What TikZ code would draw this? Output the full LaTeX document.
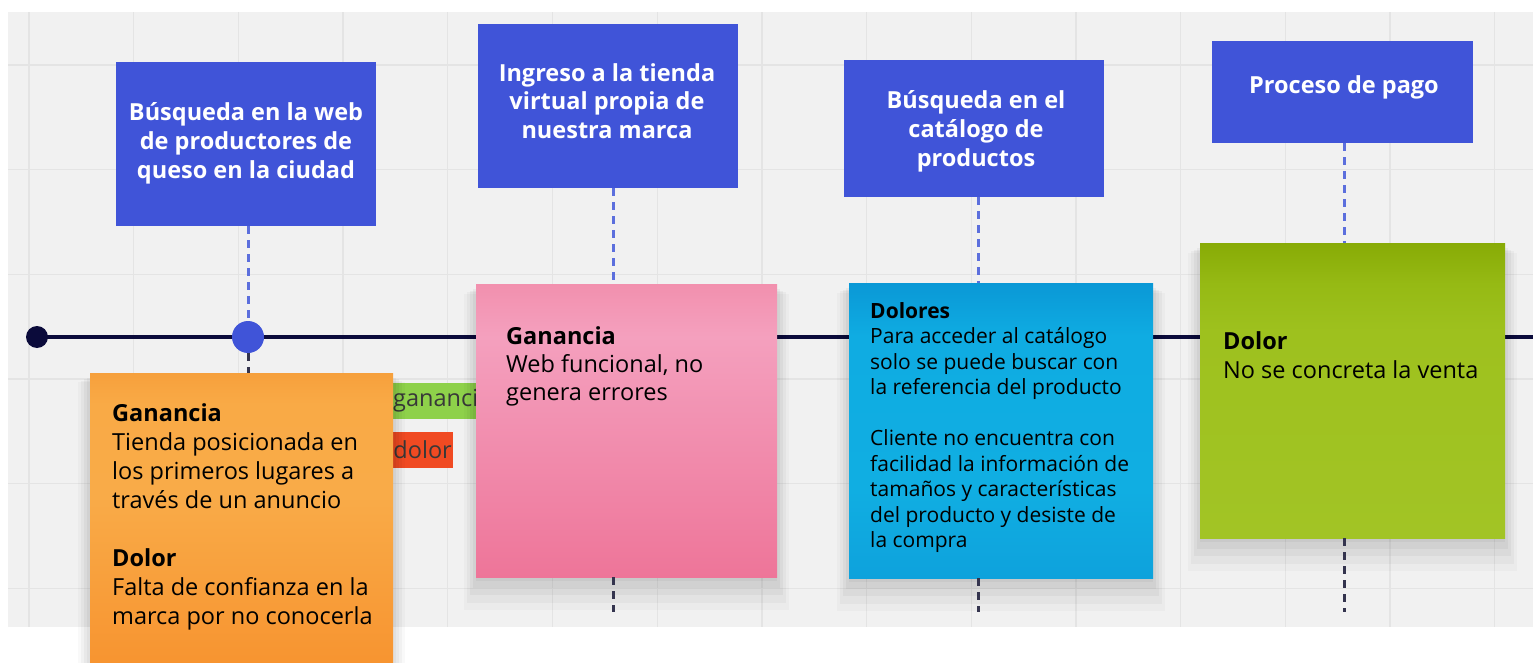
\documentclass[tikz,border=0pt]{standalone}
\usepackage{fontspec}
\setmainfont{Open Sans}
\usetikzlibrary{shadows}
\definecolor{bgc}{HTML}{F1F1F1}
\definecolor{gridc}{HTML}{E4E4E4}
\definecolor{hdrc}{HTML}{4054D8}
\definecolor{navy}{HTML}{0B0B3B}
\definecolor{dashup}{HTML}{5C6FDD}
\definecolor{dashdn}{HTML}{34344E}
\definecolor{tagg}{HTML}{8ED14A}
\definecolor{tagr}{HTML}{F04A22}
\pgfdeclareverticalshading{orshade}{100bp}{color(0bp)=(rgb,255:red,247;green,146;blue,46); color(25bp)=(rgb,255:red,247;green,146;blue,46); color(55bp)=(rgb,255:red,249;green,171;blue,72); color(70bp)=(rgb,255:red,249;green,170;blue,70); color(75bp)=(rgb,255:red,246;green,160;blue,60); color(100bp)=(rgb,255:red,246;green,160;blue,60)}
\pgfdeclareverticalshading{pishade}{100bp}{color(0bp)=(rgb,255:red,238;green,117;blue,153); color(25bp)=(rgb,255:red,238;green,117;blue,153); color(66bp)=(rgb,255:red,244;green,160;blue,190); color(75bp)=(rgb,255:red,242;green,144;blue,174); color(100bp)=(rgb,255:red,242;green,144;blue,174)}
\pgfdeclareverticalshading{blshade}{100bp}{color(0bp)=(rgb,255:red,14;green,162;blue,220); color(25bp)=(rgb,255:red,14;green,162;blue,220); color(40bp)=(rgb,255:red,16;green,174;blue,226); color(66bp)=(rgb,255:red,15;green,172;blue,226); color(75bp)=(rgb,255:red,10;green,152;blue,214); color(100bp)=(rgb,255:red,10;green,152;blue,214)}
\pgfdeclareverticalshading{grshade}{100bp}{color(0bp)=(rgb,255:red,162;green,196;blue,37); color(25bp)=(rgb,255:red,162;green,196;blue,37); color(60bp)=(rgb,255:red,158;green,193;blue,30); color(68bp)=(rgb,255:red,150;green,186;blue,20); color(75bp)=(rgb,255:red,136;green,171;blue,6); color(100bp)=(rgb,255:red,136;green,171;blue,6)}
\tikzset{
  gridline/.style={draw=gridc, line width=1.3pt},
  timeline/.style={draw=navy, line width=4pt},
  startdot/.style={circle, fill=navy, minimum size=22pt, inner sep=0pt},
  bigdot/.style={circle, fill=hdrc, minimum size=32pt, inner sep=0pt},
  hdrbox/.style={rectangle, fill=hdrc, inner sep=0pt},
  hdrtext/.style={text=white, align=center, inner sep=0pt,
    font=\bfseries\fontsize{23.5}{29}\selectfont},
  dashtop/.style={draw=dashup, line width=3pt, dash pattern=on 8pt off 6pt},
  dashbot/.style={draw=dashdn, line width=3pt, dash pattern=on 8pt off 6pt},
  softshadow/.style={
    general shadow={fill=black, opacity=0.04, shadow scale=1.00, shadow xshift=0pt, shadow yshift=-4pt},
    general shadow={fill=black, opacity=0.04, shadow scale=1.02, shadow xshift=0pt, shadow yshift=-8pt},
    general shadow={fill=black, opacity=0.035, shadow scale=1.04, shadow xshift=0pt, shadow yshift=-12pt},
    general shadow={fill=black, opacity=0.03, shadow scale=1.06, shadow xshift=0pt, shadow yshift=-16pt},
    general shadow={fill=black, opacity=0.025, shadow scale=1.08, shadow xshift=0pt, shadow yshift=-20pt}},
  sticky/.style={rectangle, inner sep=0pt, softshadow},
  stickytext/.style={anchor=north west, inner sep=0pt, align=left, text=black,
    font=\fontsize{23.5}{29}\selectfont},
  tagbox/.style={rectangle, minimum height=36pt, inner ysep=0pt, font=\fontsize{23.5}{29}\selectfont}
}
\begin{document}
\begin{tikzpicture}[x=1pt,y=-1pt]
\useasboundingbox (0,0) rectangle (1533,663);
% board background and grid
\fill[bgc] (8,12) rectangle (1533,627);
\foreach \i in {0,...,14} \draw[gridline] ({29+104.7*\i},12) -- ({29+104.7*\i},627);
\foreach \j in {0,...,5} \draw[gridline] (8,{65+104.7*\j}) -- (1533,{65+104.7*\j});

% timeline
\node[startdot] (start) at (37,337) {};
\coordinate (tend) at (1533,337);
\draw[timeline] (start.center) -- (tend);

% header boxes
\node[hdrbox, minimum width=260pt, minimum height=164pt] (h1) at (246,144) {};
\node[hdrtext] (h1t) at (246,143) {Búsqueda en la web\\de productores de\\queso en la ciudad};
\node[hdrbox, minimum width=260pt, minimum height=164pt] (h2) at (608,106) {};
\node[hdrtext, font=\bfseries\fontsize{23.5}{28.2}\selectfont] (h2t) at (607,101) {Ingreso a la tienda\\virtual propia de\\nuestra marca};
\node[hdrbox, minimum width=260pt, minimum height=137pt] (h3) at (974,128.5) {};
\node[hdrtext] (h3t) at (976,131) {Búsqueda en el\\catálogo de\\productos};
\node[hdrbox, minimum width=261pt, minimum height=102pt] (h4) at (1342.5,92) {};
\node[hdrtext] (h4t) at (1344,87) {Proceso de pago};

% first step marker
\node[bigdot] (m1) at (248,337) {};
\coordinate (d1a) at ([xshift=2pt]h1.south);
\coordinate (o1) at (248,373);
\draw[dashtop] (d1a) -- (m1.north);
\draw[dashbot] (m1.south) -- (o1);

% tags behind the notes
\node[tagbox, fill=tagg, anchor=west, text width=140pt, inner xsep=38pt, align=left, text=black!78] (tg) at (355,401) {ganancia};
\node[tagbox, fill=tagr, anchor=east, text width=90pt, inner xsep=1pt, align=right, text=black!78] (tr) at (453,450) {dolor};

% sticky notes
\node[sticky, shading=orshade, minimum width=303pt, minimum height=307pt] (so) at (241.5,526.5) {};
\node[sticky, shading=pishade, minimum width=301pt, minimum height=293pt] (sp) at (626.5,430.5) {};
\node[sticky, shading=blshade, minimum width=304pt, minimum height=295pt] (sb) at (1001,430.5) {};
\node[sticky, shading=grshade, minimum width=305pt, minimum height=295pt] (sg) at (1352.5,390.5) {};

% dashed guides for the other steps
\coordinate (d2a) at ([xshift=5pt]h2.south);
\coordinate (d2b) at (613,612);
\draw[dashtop] (d2a) -- (d2a |- sp.north);
\draw[dashbot] (d2a |- sp.south) -- (d2b);
\coordinate (d3a) at ([xshift=4pt]h3.south);
\coordinate (d3b) at (978,612);
\draw[dashtop] (d3a) -- (d3a |- sb.north);
\draw[dashbot] (d3a |- sb.south) -- (d3b);
\coordinate (d4a) at ([xshift=1.5pt]h4.south);
\coordinate (d4b) at (1344,612);
\draw[dashtop] (d4a) -- (d4a |- sg.north);
\draw[dashbot] (d4a |- sg.south) -- (d4b);

% sticky texts
\node[stickytext] (to) at (112,403.5)
  {\textbf{Ganancia}\\Tienda posicionada en\\los primeros lugares a\\través de un anuncio\\[29pt]
   \textbf{Dolor}\\Falta de confianza en la\\marca por no conocerla};
\node[stickytext, font=\fontsize{23.5}{28.3}\selectfont] (tp) at (506,326)
  {\textbf{Ganancia}\\Web funcional, no\\genera errores};
\node[stickytext, font=\fontsize{21}{25.5}\selectfont] (tb) at (870,302)
  {\textbf{Dolores}\\Para acceder al catálogo\\solo se puede buscar con\\la referencia del producto\\[25.5pt]
   Cliente no encuentra con\\facilidad la información de\\tamaños y características\\del producto y desiste de\\la compra};
\node[stickytext] (tgr) at (1223,331)
  {\textbf{Dolor}\\No se concreta la venta};
\end{tikzpicture}
\end{document}
